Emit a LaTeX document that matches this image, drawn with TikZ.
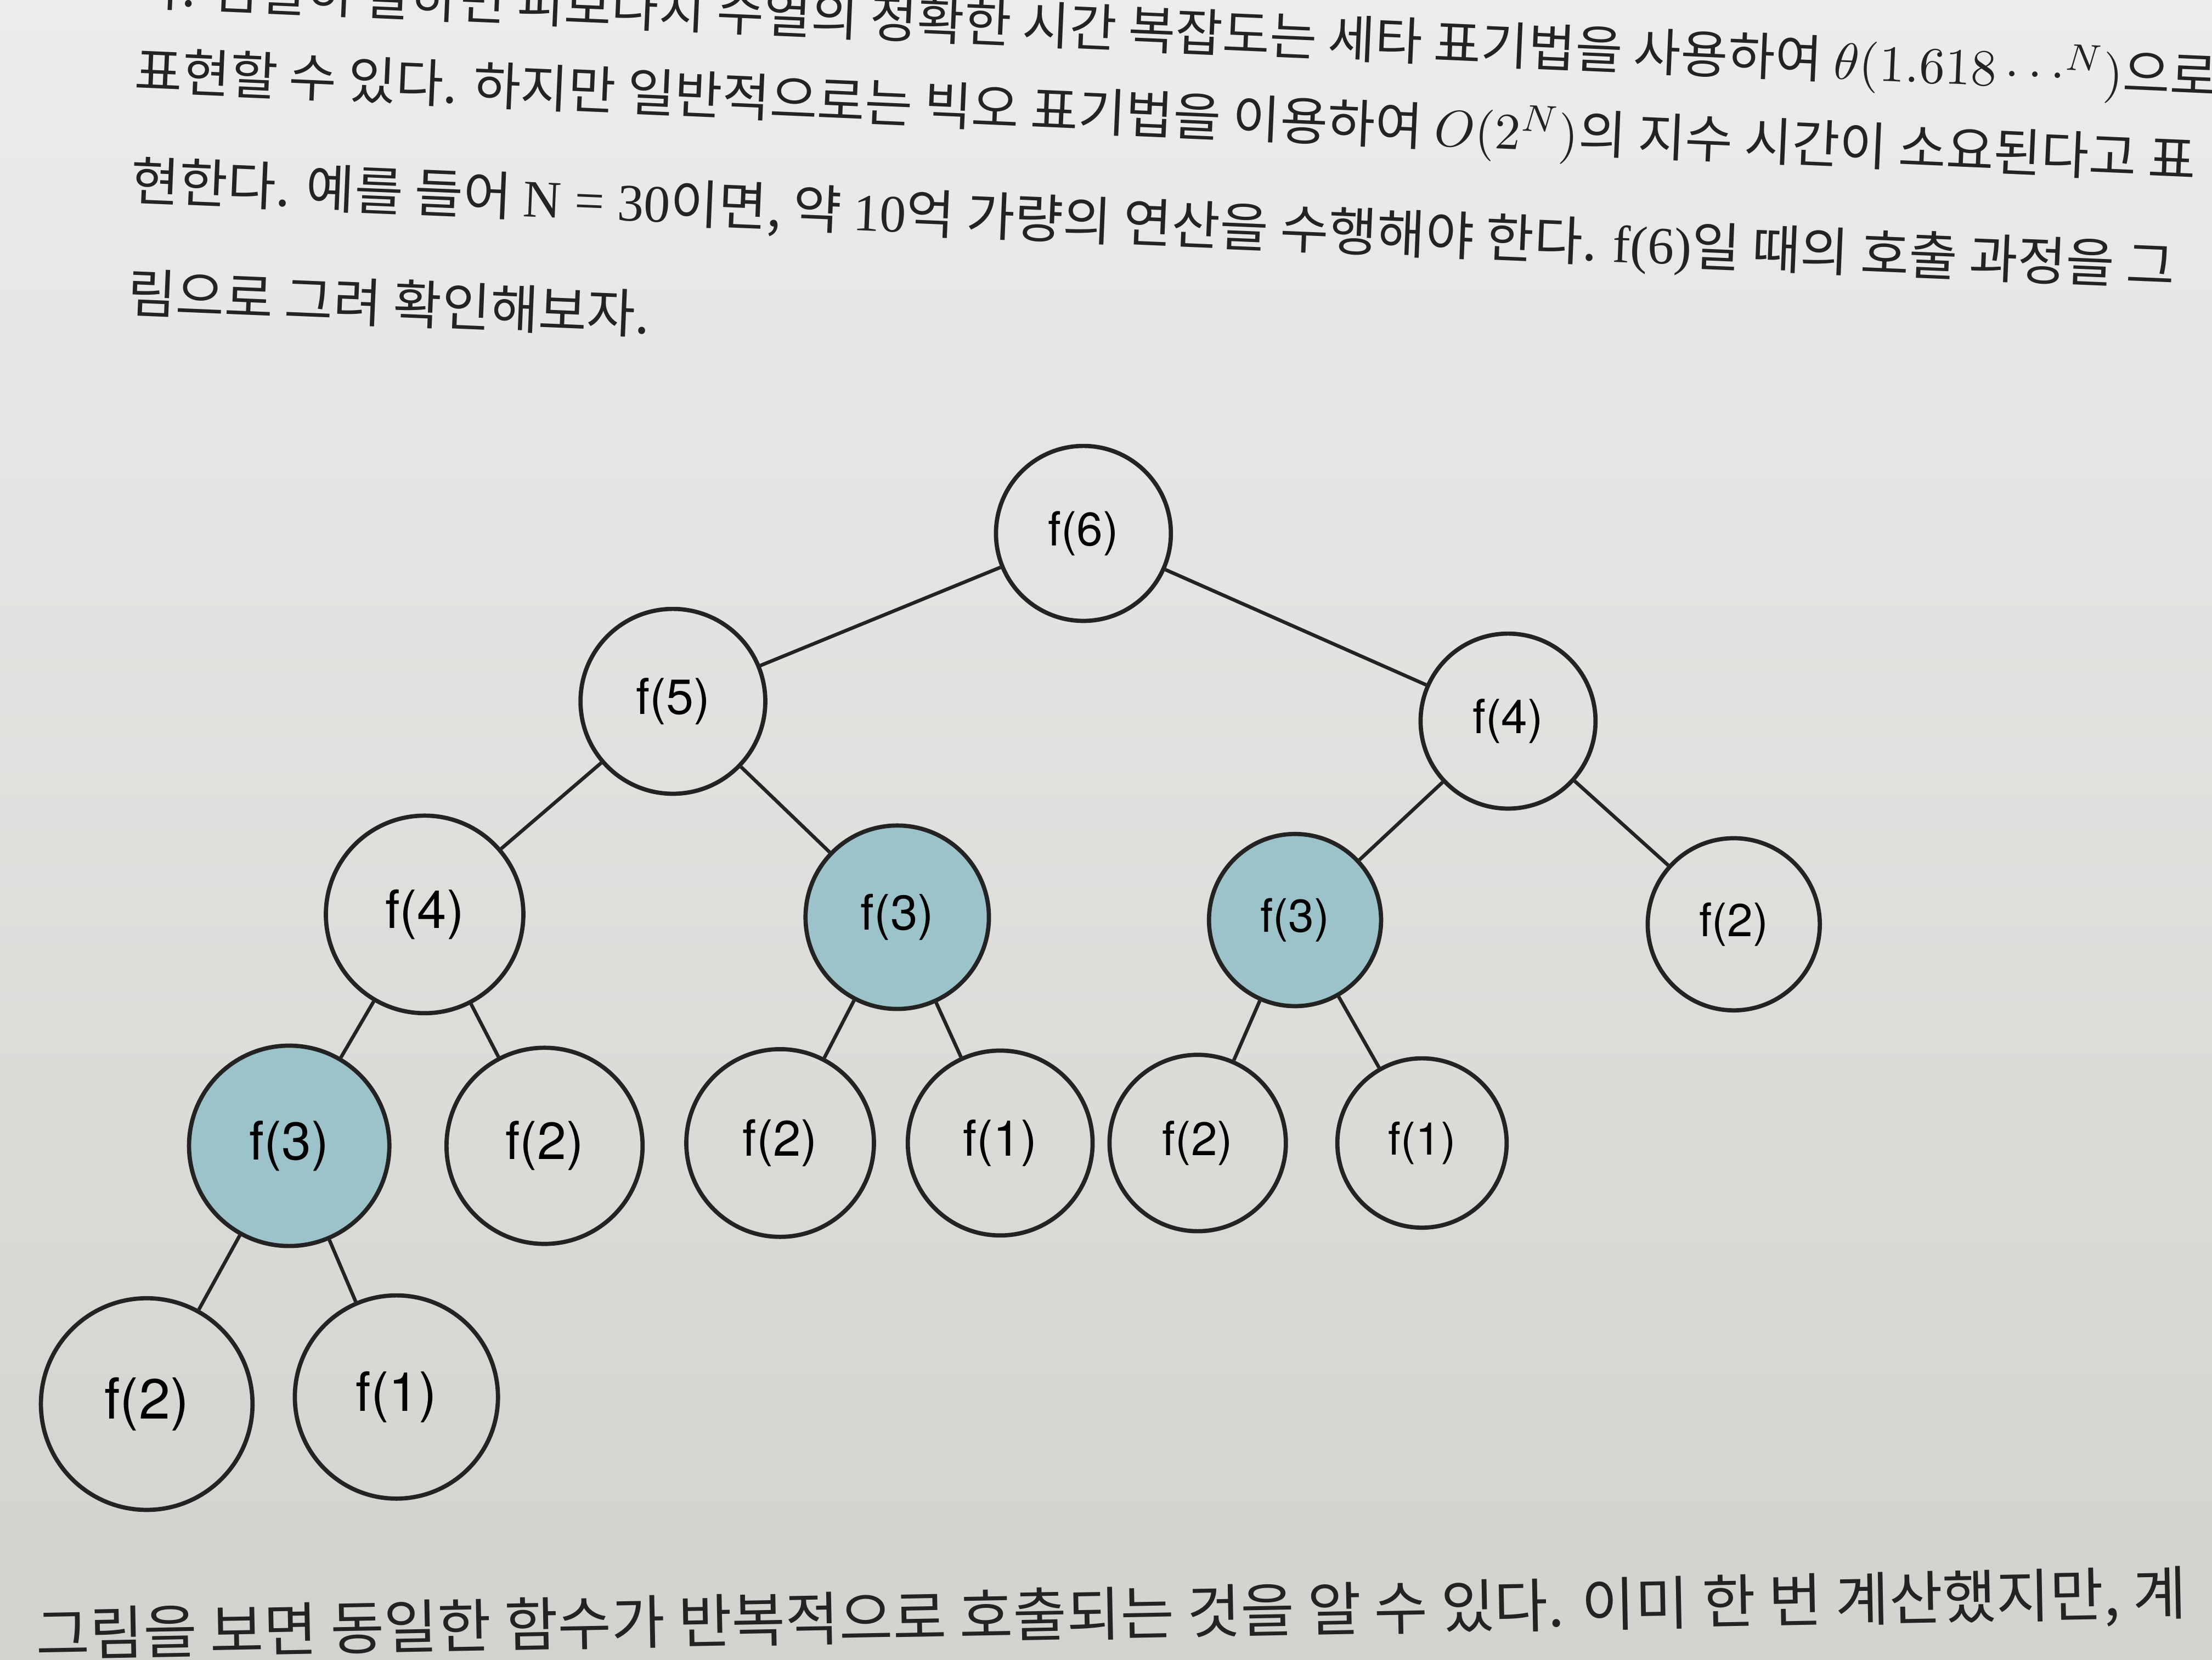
\documentclass[tikz,border=0pt]{standalone}
\usepackage{fontspec}
\setmainfont{Liberation Serif}
\newfontfamily\kr{Noto Sans CJK KR}
\newfontfamily\lbl{TeX Gyre Heros}
\definecolor{callblue}{RGB}{156,194,202}
\definecolor{ink}{RGB}{35,35,35}
\definecolor{pagetop}{RGB}{236,236,235}
\definecolor{pagebottom}{RGB}{212,210,206}
\newcommand{\lat}[1]{{\rmfamily #1}}
\newcommand{\lblsize}[1]{\lbl\fontsize{#1}{12}\selectfont}
\begin{document}
\begin{tikzpicture}
[x=0.3pt, y=-0.3pt, every node/.style={inner sep=0pt}]
\useasboundingbox (0,0) rectangle (1568,1176);
\shade [top color=pagetop, bottom color=pagebottom] (0,0) rectangle (1568,1176);
\clip (0,0) rectangle (1568,1176);
% text of the page
\node (line0) [anchor=west, rotate=-2.5, text=ink] at (95, -8) {\kr\fontsize{10.9}{12}\selectfont 다. 엄밀히 말하면 피보나치 수열의 정확한 시간 복잡도는 세타 표기법을 사용하여 $\theta(1.618\cdots^{N})$으로};
\node (line1) [anchor=west, rotate=-2.5, text=ink] at (95, 52) {\kr\fontsize{11}{12}\selectfont 표현할 수 있다. 하지만 일반적으로는 빅오 표기법을 이용하여 $O(2^{N})$의 지수 시간이 소요된다고 표};
\node (line2) [anchor=west, rotate=-2.4, text=ink] at (92, 130) {\kr\fontsize{11.2}{12}\selectfont 현한다. 예를 들어 \lat{N = 30}이면, 약 \lat{10}억 가량의 연산을 수행해야 한다. \lat{f(6)}일 때의 호출 과정을 그};
\node (line3) [anchor=west, rotate=-2.4, text=ink] at (90, 207) {\kr\fontsize{11.2}{12}\selectfont 림으로 그려 확인해보자.};
\node (after) [anchor=west, rotate=1.1, text=ink] at (25, 1160) {\kr\fontsize{12.4}{13}\selectfont 그림을 보면 동일한 함수가 반복적으로 호출되는 것을 알 수 있다. 이미 한 번 계산했지만, 계};
% call tree
\node (f6) [circle, minimum size=37.2pt, line width=0.9pt, draw=ink] at (768, 378) {\lblsize{10}f(6)};
\node (f5) [circle, minimum size=39.3pt, line width=0.9pt, draw=ink] at (477, 497) {\lblsize{10.5}f(5)};
\node (f4r) [circle, minimum size=37.2pt, line width=0.9pt, draw=ink] at (1069, 511) {\lblsize{10}f(4)};
\node (f4l) [circle, minimum size=42pt, line width=0.9pt, draw=ink] at (301, 648) {\lblsize{11.2}f(4)};
\node (f3m) [circle, minimum size=39pt, line width=0.9pt, draw=ink, fill=callblue] at (636, 650) {\lblsize{10.4}f(3)};
\node (f3r) [circle, minimum size=36.6pt, line width=0.9pt, draw=ink, fill=callblue] at (918, 652) {\lblsize{9.8}f(3)};
\node (f2r) [circle, minimum size=36.6pt, line width=0.9pt, draw=ink] at (1229, 655) {\lblsize{9.8}f(2)};
\node (f3l) [circle, minimum size=42.6pt, line width=0.9pt, draw=ink, fill=callblue] at (205, 812) {\lblsize{11.3}f(3)};
\node (f2a) [circle, minimum size=41.7pt, line width=0.9pt, draw=ink] at (386, 812) {\lblsize{11.1}f(2)};
\node (f2b) [circle, minimum size=39.9pt, line width=0.9pt, draw=ink] at (553, 810) {\lblsize{10.6}f(2)};
\node (f1a) [circle, minimum size=39.3pt, line width=0.9pt, draw=ink] at (709, 810) {\lblsize{10.5}f(1)};
\node (f2c) [circle, minimum size=37.5pt, line width=0.9pt, draw=ink] at (849, 810) {\lblsize{10}f(2)};
\node (f1b) [circle, minimum size=36pt, line width=0.9pt, draw=ink] at (1008, 810) {\lblsize{9.6}f(1)};
\node (f2d) [circle, minimum size=45pt, line width=0.9pt, draw=ink] at (104, 995) {\lblsize{12}f(2)};
\node (f1c) [circle, minimum size=43.2pt, line width=0.9pt, draw=ink] at (281, 990) {\lblsize{11.5}f(1)};
\draw [line width=0.75pt, color=ink] (f6) to (f5);
\draw [line width=0.75pt, color=ink] (f6) to (f4r);
\draw [line width=0.75pt, color=ink] (f5) to (f4l);
\draw [line width=0.75pt, color=ink] (f5) to (f3m);
\draw [line width=0.75pt, color=ink] (f4r) to (f3r);
\draw [line width=0.75pt, color=ink] (f4r) to (f2r);
\draw [line width=0.75pt, color=ink] (f4l) to (f3l);
\draw [line width=0.75pt, color=ink] (f4l) to (f2a);
\draw [line width=0.75pt, color=ink] (f3m) to (f2b);
\draw [line width=0.75pt, color=ink] (f3m) to (f1a);
\draw [line width=0.75pt, color=ink] (f3r) to (f2c);
\draw [line width=0.75pt, color=ink] (f3r) to (f1b);
\draw [line width=0.75pt, color=ink] (f3l) to (f2d);
\draw [line width=0.75pt, color=ink] (f3l) to (f1c);
\end{tikzpicture}
\end{document}
